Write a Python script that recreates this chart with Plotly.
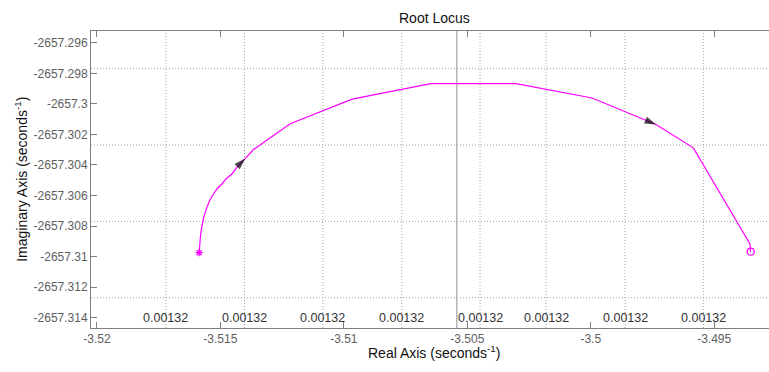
import plotly.graph_objects as go

# Root locus branch (real, imaginary)
locus_re = [-3.515858, -3.515846, -3.515810, -3.515769, -3.515709, -3.515672,
            -3.515547, -3.515429, -3.515279, -3.515130, -3.514939, -3.514765,
            -3.514534, -3.514279, -3.513996, -3.513660, -3.512174, -3.509664,
            -3.506478, -3.503024, -3.499947, -3.497356, -3.495846, -3.493551,
            -3.493530]
locus_im = [-2657.30975, -2657.309375, -2657.308717, -2657.308191, -2657.307664,
            -2657.307401, -2657.306789, -2657.306316, -2657.305908, -2657.305559,
            -2657.30525, -2657.304901, -2657.304592, -2657.304046, -2657.303586,
            -2657.302993, -2657.301303, -2657.299691, -2657.298671, -2657.298671,
            -2657.299618, -2657.301349, -2657.302882, -2657.309178, -2657.309684]

pole_re = [-3.515858]
pole_im = [-2657.30975]
zero_re = [-3.493522]
zero_im = [-2657.309684]

# indices of locus points that carry a direction arrow
arrow_idx = [14, 21]

# s-grid: constant damping (near-vertical) and natural frequency (near-horizontal)
damp_lines_re = [-3.517206, -3.514024, -3.510850, -3.507652, -3.504482,
                 -3.501810, -3.498611, -3.495441]
damp_labels = ["0.00132"] * 8
freq_lines_im = [-2657.2977, -2657.3027, -2657.3077, -2657.3127]
solid_line_re = [-3.505425]

x_ticks = [-3.52, -3.515, -3.51, -3.505, -3.5, -3.495]
x_ticktext = ["-3.52", "-3.515", "-3.51", "-3.505", "-3.5", "-3.495"]
y_ticks = [-2657.296, -2657.298, -2657.300, -2657.302, -2657.304, -2657.306,
           -2657.308, -2657.310, -2657.312, -2657.314]
y_ticktext = ["-2657.296", "-2657.298", "-2657.3", "-2657.302", "-2657.304",
              "-2657.306", "-2657.308", "-2657.31", "-2657.312", "-2657.314"]

x_range = [-3.52024, -3.492781]
y_range = [-2657.31468, -2657.29523]
label_im = -2657.31403

FONT = "Liberation Sans, Arial, sans-serif"
MAG = "#ff00ff"
GRID = "#a0a0a0"
AXC = "#7f7f7f"

fig = go.Figure()

shapes = []
for xv in damp_lines_re:
    shapes.append(dict(type="line", xref="x", yref="paper", x0=xv, x1=xv, y0=0, y1=1,
                       line=dict(color=GRID, width=1, dash="1px,2px"), layer="below"))
for yv in freq_lines_im:
    shapes.append(dict(type="line", xref="paper", yref="y", x0=0, x1=1, y0=yv, y1=yv,
                       line=dict(color=GRID, width=1, dash="1px,2px"), layer="below"))
for xv in solid_line_re:
    shapes.append(dict(type="line", xref="x", yref="paper", x0=xv, x1=xv, y0=0, y1=1,
                       line=dict(color="#b4b4b4", width=1.5), layer="below"))

fig.add_trace(go.Scatter(x=locus_re, y=locus_im, mode="lines",
                         line=dict(color=MAG, width=1.2),
                         hoverinfo="skip", showlegend=False))

# arrow heads: each arrow point preceded by the locus point before it (size 0)
ax_pts, ay_pts, a_sizes = [], [], []
for i in arrow_idx:
    ax_pts += [locus_re[i - 1], locus_re[i]]
    ay_pts += [locus_im[i - 1], locus_im[i]]
    a_sizes += [0, 12]
fig.add_trace(go.Scatter(x=ax_pts, y=ay_pts, mode="markers",
                         marker=dict(symbol="arrow", size=a_sizes, color="black",
                                     angleref="previous", line=dict(width=0, color="black")),
                         hoverinfo="skip", showlegend=False))

fig.add_trace(go.Scatter(x=pole_re, y=pole_im, mode="markers",
                         marker=dict(symbol="asterisk-open", size=6, color=MAG,
                                     line=dict(color=MAG, width=1.2)),
                         showlegend=False))
fig.add_trace(go.Scatter(x=zero_re, y=zero_im, mode="markers",
                         marker=dict(symbol="circle-open", size=7, color=MAG,
                                     line=dict(color=MAG, width=1.2)),
                         showlegend=False))

annotations = []
for xv, t in zip(damp_lines_re, damp_labels):
    annotations.append(dict(x=xv, y=label_im, xref="x", yref="y", text=t,
                            showarrow=False, font=dict(family=FONT, size=12.5, color="#333333"),
                            xanchor="center", yanchor="middle"))
annotations.append(dict(x=0.5069, y=1.0438, xref="paper", yref="paper", text="Root Locus",
                        showarrow=False, font=dict(family=FONT, size=14, color="#111111"),
                        xanchor="center", yanchor="middle"))
annotations.append(dict(x=0.5056, y=-0.0818, xref="paper", yref="paper",
                        text="Real Axis (seconds<sup>-1</sup>)",
                        showarrow=False, font=dict(family=FONT, size=14, color="#111111"),
                        xanchor="center", yanchor="middle"))
annotations.append(dict(x=-0.1043, y=0.5, xref="paper", yref="paper",
                        text="Imaginary Axis (seconds<sup>-1</sup>)", textangle=-90,
                        showarrow=False, font=dict(family=FONT, size=14, color="#111111"),
                        xanchor="center", yanchor="middle"))

fig.update_layout(
    width=769, height=372, autosize=False,
    margin=dict(l=91, r=0, t=31, b=44, pad=0),
    paper_bgcolor="white", plot_bgcolor="white",
    shapes=shapes, annotations=annotations,
    xaxis=dict(range=x_range, tickvals=x_ticks, ticktext=x_ticktext,
               showgrid=False, zeroline=False, showline=True, linecolor=AXC, linewidth=1,
               mirror="ticks", ticks="inside", ticklen=6, tickcolor=AXC,
               tickfont=dict(family=FONT, size=12, color="#5e5e5e")),
    yaxis=dict(range=y_range, tickvals=y_ticks, ticktext=y_ticktext,
               showgrid=False, zeroline=False, showline=True, linecolor=AXC, linewidth=1,
               mirror=False, ticks="inside", ticklen=6, tickcolor=AXC,
               tickfont=dict(family=FONT, size=12, color="#5e5e5e")),
    showlegend=False,
)

fig.write_html("out.html")
